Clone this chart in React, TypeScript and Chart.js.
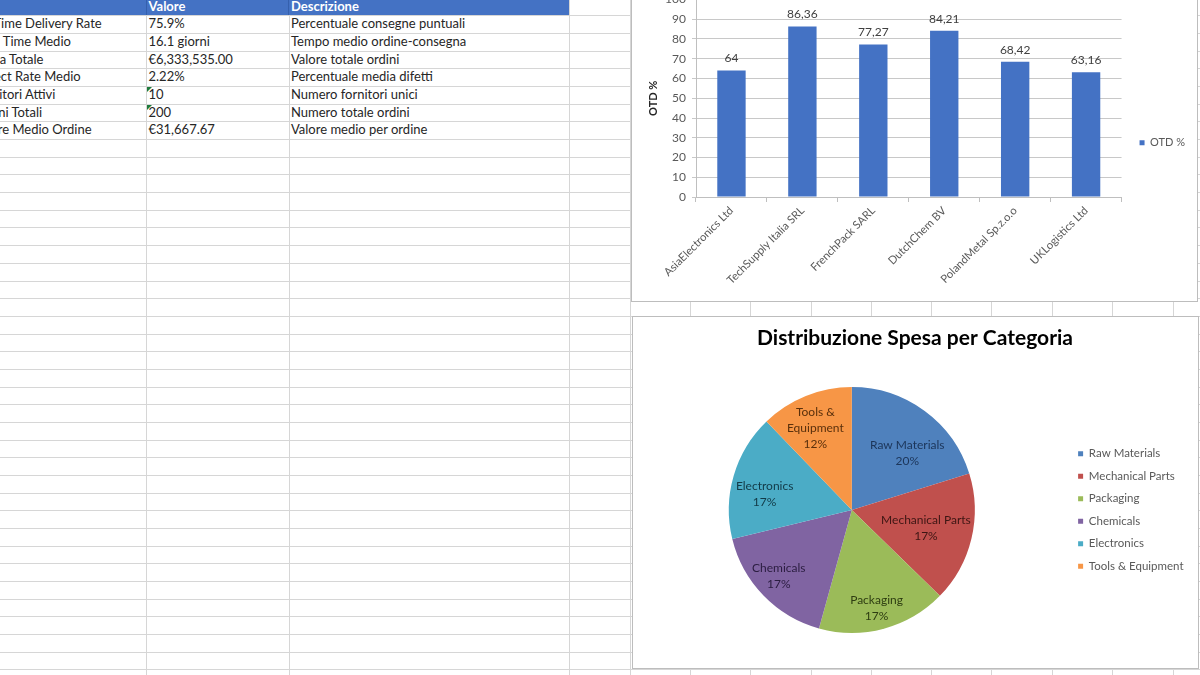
import React, { useEffect, useRef } from "react";
import { Chart, registerables } from "chart.js";

Chart.register(...registerables);

// ---------------- data ----------------
const tableHeaders = ["", "Valore", "Descrizione"];
const kpiNames = [
  "On Time Delivery Rate",
  "Lead Time Medio",
  "Spesa Totale",
  "Defect Rate Medio",
  "Fornitori Attivi",
  "Ordini Totali",
  "Valore Medio Ordine",
];
const kpiValues = ["75.9%", "16.1 giorni", "€6,333,535.00", "2.22%", "10", "200", "€31,667.67"];
const kpiDescriptions = [
  "Percentuale consegne puntuali",
  "Tempo medio ordine-consegna",
  "Valore totale ordini",
  "Percentuale media difetti",
  "Numero fornitori unici",
  "Numero totale ordini",
  "Valore medio per ordine",
];
const textNumberRows = [4, 5];

const suppliers = [
  "AsiaElectronics Ltd",
  "TechSupply Italia SRL",
  "FrenchPack SARL",
  "DutchChem BV",
  "PolandMetal Sp.z.o.o",
  "UKLogistics Ltd",
];
const otdValues = [64, 86.36, 77.27, 84.21, 68.42, 63.16];
const otdLabel = "OTD %";
const otdAxisMin = 0;
const otdAxisMax = 100;
const otdAxisStep = 10;

const spendTitle = "Distribuzione Spesa per Categoria";
const spendCategories = [
  "Raw Materials",
  "Mechanical Parts",
  "Packaging",
  "Chemicals",
  "Electronics",
  "Tools & Equipment",
];
const spendValues = [1279374, 1083035, 1076701, 1070367, 1051367, 772691];

// ---------------- styles ----------------
const FONT = "Lato, 'Open Sans', sans-serif";
const HEADER_BLUE = "#4472C4";
const BAR_BLUE = "#4472C4";
const PIE_COLORS = ["#4F81BD", "#C0504D", "#9BBB59", "#8064A2", "#4BACC6", "#F79646"];
const PIE_TEXT_COLORS = ["#1c3559", "#3d1614", "#2e3d12", "#2a1d40", "#123a47", "#5a300c"];
const PIE_LABEL_PLACE = [
  { shift: 8, r: 0.645 },
  { shift: 0, r: 0.62 },
  { shift: 1, r: 0.825 },
  { shift: 2, r: 0.8 },
  { shift: -6, r: 0.72 },
  { shift: -2, r: 0.73 },
];
const GRID = "#d6d6d6";
const ROW_TOP = 15.3;
const ROW_H = 17.68;
const COL_LINES = [146, 288.5, 569, 629.5, 690, 750, 810.5, 870.5, 931, 991, 1052, 1112, 1172.5];
const COL_A_TEXT_X = -27;

const barValueLabels = {
  id: "barValueLabels",
  afterDatasetsDraw(chart: any) {
    const { ctx } = chart;
    const meta = chart.getDatasetMeta(0);
    const data = chart.data.datasets[0].data as number[];
    ctx.save();
    ctx.font = `12px ${FONT}`;
    ctx.fillStyle = "#404040";
    ctx.textAlign = "center";
    ctx.textBaseline = "middle";
    meta.data.forEach((bar: any, i: number) => {
      ctx.fillText(String(data[i]).replace(".", ","), bar.x, bar.y - 12);
    });
    ctx.restore();
  },
};

const pieLabels = {
  id: "pieLabels",
  afterDatasetsDraw(chart: any) {
    const { ctx } = chart;
    const meta = chart.getDatasetMeta(0);
    const data = chart.data.datasets[0].data as number[];
    const labels = chart.data.labels as string[];
    const total = data.reduce((a, b) => a + b, 0);
    ctx.save();
    ctx.font = `12px ${FONT}`;
    ctx.textAlign = "center";
    ctx.textBaseline = "middle";
    meta.data.forEach((arc: any, i: number) => {
      const p = arc.getProps(["startAngle", "endAngle", "outerRadius", "x", "y"], true);
      const place = PIE_LABEL_PLACE[i] || { shift: 0, r: 0.7 };
      const mid = (p.startAngle + p.endAngle) / 2 + (place.shift * Math.PI) / 180;
      const rr = p.outerRadius * place.r;
      const cx = p.x + Math.cos(mid) * rr;
      const cy = p.y + Math.sin(mid) * rr;
      const name = labels[i];
      let lines: string[] = [name];
      if (ctx.measureText(name).width > 93) {
        lines = [];
        let cur = "";
        name.split(" ").forEach((w) => {
          const t = cur ? cur + " " + w : w;
          if (cur && ctx.measureText(t).width > 60) {
            lines.push(cur);
            cur = w;
          } else cur = t;
        });
        if (cur) lines.push(cur);
      }
      lines.push(Math.round((data[i] / total) * 100) + "%");
      ctx.fillStyle = PIE_TEXT_COLORS[i];
      lines.forEach((ln, j) => {
        ctx.fillText(ln, cx, cy + (j - (lines.length - 1) / 2) * 15.7);
      });
    });
    ctx.restore();
  },
};

export default function App() {
  const barRef = useRef<HTMLCanvasElement | null>(null);
  const pieRef = useRef<HTMLCanvasElement | null>(null);

  useEffect(() => {
    const bar = new Chart(barRef.current as HTMLCanvasElement, {
      type: "bar",
      data: {
        labels: suppliers,
        datasets: [
          {
            label: otdLabel,
            data: otdValues,
            backgroundColor: BAR_BLUE,
            barPercentage: 0.4,
            categoryPercentage: 1,
          },
        ],
      },
      options: {
        animation: false,
        responsive: true,
        maintainAspectRatio: false,
        layout: { padding: { top: 13.5, left: 8, right: 2, bottom: 0 } },
        plugins: {
          legend: {
            position: "right",
            align: "start",
            title: { display: true, text: "", font: { family: FONT, size: 12 }, padding: { top: 105.4, bottom: 0 } },
            labels: {
              boxWidth: 5,
              boxHeight: 5,
              padding: 18,
              color: "#595959",
              font: { family: FONT, size: 11 },
            },
          },
          tooltip: { enabled: false },
        },
        scales: {
          x: {
            grid: { drawOnChartArea: false, drawTicks: true, tickLength: 5, color: "#bfbfbf" },
            border: { color: "#bfbfbf" },
            ticks: {
              minRotation: 45,
              maxRotation: 45,
              autoSkip: false,
              color: "#595959",
              padding: 2,
              font: { family: FONT, size: 11.2 },
            },
            afterFit: (s: any) => {
              s.height = 104;
            },
          },
          y: {
            min: otdAxisMin,
            max: otdAxisMax,
            ticks: { stepSize: otdAxisStep, color: "#595959", padding: 6, font: { family: FONT, size: 12 } },
            grid: { color: "#c8c8c8", tickLength: 4, drawTicks: true },
            border: { color: "#bfbfbf" },
            title: {
              display: true,
              text: otdLabel,
              color: "#262626",
              font: { family: FONT, size: 11, weight: "bold" },
              padding: { top: 7, bottom: 0 },
            },
            afterFit: (s: any) => {
              s.width = 56;
            },
          },
        },
      } as any,
      plugins: [barValueLabels],
    });

    const pie = new Chart(pieRef.current as HTMLCanvasElement, {
      type: "pie",
      data: {
        labels: spendCategories,
        datasets: [{ data: spendValues, backgroundColor: PIE_COLORS, borderWidth: 0 }],
      },
      options: {
        animation: false,
        responsive: true,
        maintainAspectRatio: false,
        layout: { padding: { top: 0, left: 3.5, right: 4.5, bottom: 35 } },
        plugins: {
          title: {
            display: true,
            text: spendTitle,
            color: "#000000",
            font: { family: FONT, size: 21, weight: "bold" },
            padding: { top: 8.4, bottom: 36.4 },
          },
          legend: {
            position: "right",
            fullSize: false,
            labels: {
              boxWidth: 5,
              boxHeight: 5,
              padding: 11,
              color: "#595959",
              font: { family: FONT, size: 11.5 },
            },
          },
          tooltip: { enabled: false },
        },
      } as any,
      plugins: [pieLabels],
    });

    return () => {
      bar.destroy();
      pie.destroy();
    };
  }, []);

  const rowLines: number[] = [];
  for (let k = 0; ROW_TOP + k * ROW_H < 675; k++) rowLines.push(ROW_TOP + k * ROW_H);

  const cellText: React.CSSProperties = {
    position: "absolute",
    height: ROW_H,
    lineHeight: ROW_H + "px",
    fontSize: 13,
    color: "#262626",
    whiteSpace: "nowrap",
  };

  return (
    <div
      style={{
        position: "fixed",
        left: 0,
        top: 0,
        width: 1200,
        height: 675,
        overflow: "hidden",
        background: "#ffffff",
        fontFamily: FONT,
      }}
    >
      {/* sheet grid */}
      {rowLines.map((y, i) => (
        <div key={"r" + i} style={{ position: "absolute", left: 0, top: Math.round(y), width: 1200, height: 1, background: GRID }} />
      ))}
      {COL_LINES.map((x, i) => (
        <div key={"c" + i} style={{ position: "absolute", left: Math.round(x), top: 0, width: 1, height: 675, background: GRID }} />
      ))}

      {/* header row */}
      <div style={{ position: "absolute", left: 0, top: 0, width: 569, height: Math.round(ROW_TOP), background: HEADER_BLUE }} />
      <div style={{ position: "absolute", left: 146, top: 0, width: 1, height: Math.round(ROW_TOP), background: "#3560ad" }} />
      <div style={{ position: "absolute", left: 288, top: 0, width: 1, height: Math.round(ROW_TOP), background: "#3560ad" }} />
      {[COL_A_TEXT_X, 148.5, 291].map((x, i) => (
        <div
          key={"h" + i}
          style={{ ...cellText, left: x, top: ROW_TOP - ROW_H, color: "#ffffff", fontWeight: 700 }}
        >
          {tableHeaders[i]}
        </div>
      ))}

      {/* table rows */}
      {kpiNames.map((name, i) => (
        <React.Fragment key={"row" + i}>
          <div style={{ ...cellText, left: COL_A_TEXT_X, top: ROW_TOP + i * ROW_H }}>{name}</div>
          <div style={{ ...cellText, left: 148.5, top: ROW_TOP + i * ROW_H }}>{kpiValues[i]}</div>
          <div style={{ ...cellText, left: 291, top: ROW_TOP + i * ROW_H }}>{kpiDescriptions[i]}</div>
          {textNumberRows.includes(i) && (
            <div
              style={{
                position: "absolute",
                left: 147,
                top: Math.round(ROW_TOP + i * ROW_H) + 1,
                width: 0,
                height: 0,
                borderTop: "5px solid #1f7a3a",
                borderRight: "5px solid transparent",
              }}
            />
          )}
        </React.Fragment>
      ))}

      {/* bar chart box */}
      <div
        style={{
          position: "absolute",
          left: 631,
          top: -15,
          width: 567,
          height: 317,
          boxSizing: "border-box",
          border: "1px solid #bdbdbd",
          background: "#ffffff",
        }}
      >
        <div style={{ position: "relative", width: 565, height: 315 }}>
          <canvas ref={barRef} />
        </div>
      </div>

      {/* pie chart box */}
      <div
        style={{
          position: "absolute",
          left: 632,
          top: 316,
          width: 567,
          height: 353,
          boxSizing: "border-box",
          border: "1px solid #bdbdbd",
          background: "#ffffff",
        }}
      >
        <div style={{ position: "relative", width: 565, height: 351 }}>
          <canvas ref={pieRef} />
        </div>
      </div>
    </div>
  );
}
